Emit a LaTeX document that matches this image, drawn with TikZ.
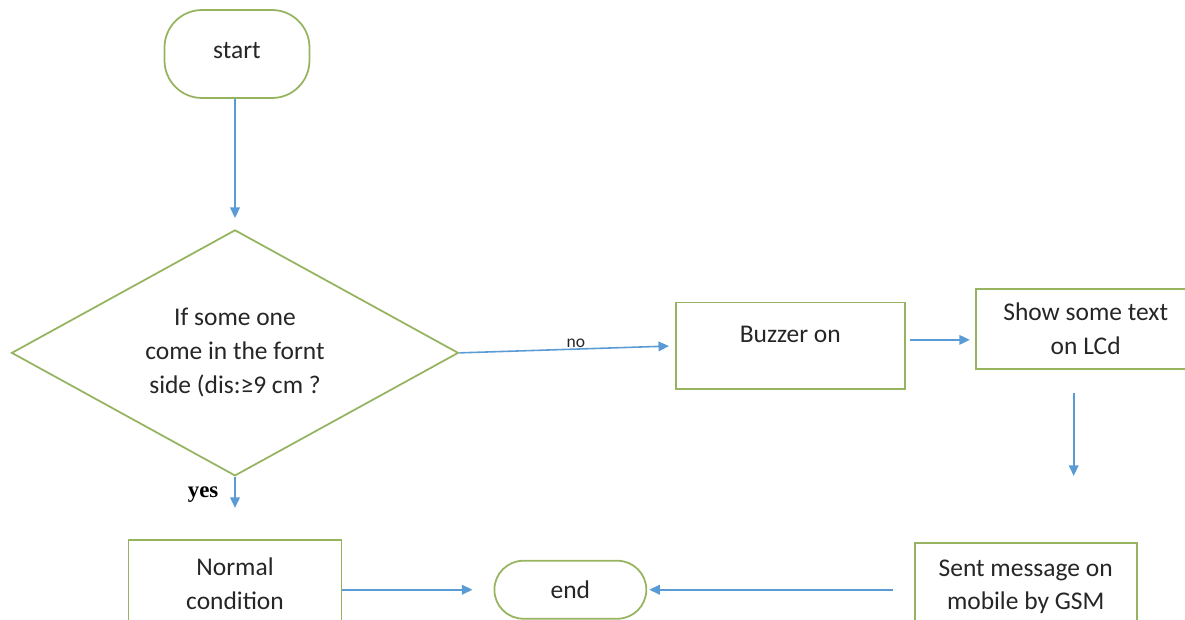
\documentclass[tikz,border=0pt]{standalone}
\usepackage{fontspec}
\setmainfont{Carlito}
\newfontfamily\serifbold{Liberation Serif}
\usetikzlibrary{arrows.meta,shapes.geometric,positioning}
\definecolor{boxgreen}{RGB}{150,180,95}
\definecolor{arrowblue}{RGB}{91,155,213}
\definecolor{txtgrey}{RGB}{38,38,38}
\tikzstyle{bloque}=[draw=boxgreen, line width=1pt, fill=white, text=txtgrey,
  align=center, font=\fontsize{14.5}{19.3}\selectfont]
\tikzstyle{terminal}=[bloque, rectangle, rounded corners=0.75cm,
  minimum width=2.9cm, minimum height=1.76cm]
\tikzstyle{proceso}=[bloque, rectangle, minimum height=1.76cm]
\tikzstyle{decision}=[bloque, diamond, aspect=1.82, inner sep=0pt,
  minimum width=8.94cm, minimum height=4.92cm]
\tikzstyle{line}=[draw, line width=0.9pt, color=arrowblue,
  -{Triangle[length=6pt,width=5.5pt]}]
\tikzstyle{yeslabel}=[left=0.2cm, text=black,
  font=\serifbold\bfseries\fontsize{13}{15}\selectfont]
\tikzstyle{nolabel}=[above, inner sep=0.6pt, text=txtgrey,
  font=\fontsize{10}{12}\selectfont]

\begin{document}
\begin{tikzpicture}[x=0.02cm, y=-0.02cm]
  \useasboundingbox (0,0) rectangle (1185,619);
  \clip (0,0) rectangle (1185,619);

  % flow chart blocks
  \path (237,54) node (start) [terminal, text depth=4pt] {start};
  \path (start.south)+(-2,254) node (dec) [decision]
    {If some one\\come in the fornt\\side (dis:≥9 cm ?};
  \path (dec.south)+(0,107) node (norm) [proceso, minimum width=4.26cm]
    {Normal\\condition};
  \path (dec.east)+(331,-7) node (buzz) [proceso, minimum width=4.58cm,
    minimum height=1.74cm, text depth=13.6pt] {Buzzer on};
  \path (buzz.east)+(180,-17) node (lcd) [proceso, minimum width=4.4cm,
    minimum height=1.6cm] {Show some text\\on LCd};
  \path (lcd.south)+(-60,217) node (gsm) [proceso, minimum width=4.44cm]
    {Sent message on\\mobile by GSM};
  \path (norm.east)+(228,6) node (fin) [terminal, rounded corners=0.58cm,
    minimum width=3.04cm, minimum height=1.16cm] {end};

  \coordinate (b1) at ([yshift=0.12cm]buzz.east);
  \coordinate (l1) at ([xshift=-0.24cm]lcd.south);
  \coordinate (s1) at ([xshift=-0.04cm]start.south);

  % connectors
  \path [line, shorten >=0.22cm] (s1) -- (s1 |- dec.north);
  \path [line, shorten >=0.62cm] (dec.south) --
    node [yeslabel, pos=0.29] {yes} (norm.north);
  \path [line, shorten >=0.12cm] (dec.east) --
    node [nolabel, pos=0.54] {no} (buzz.west);
  \path [line, shorten <=0.08cm, shorten >=0.1cm] (b1) -- (b1 -| lcd.west);
  \path [line, shorten <=0.46cm, shorten >=1.32cm] (l1) -- (l1 |- gsm.north);
  \path [line, shorten >=0.42cm] (norm.east |- fin.west) -- (fin.west);
  \path [line, shorten <=0.42cm, shorten >=0.04cm] (gsm.west |- fin.east)
    -- (fin.east);
\end{tikzpicture}
\end{document}
